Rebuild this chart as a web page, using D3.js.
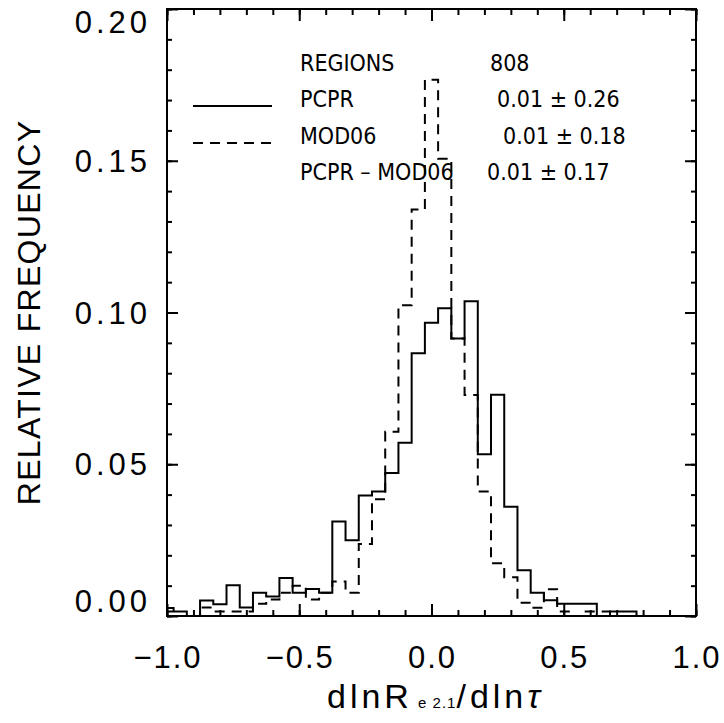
<!DOCTYPE html>
<html>
<head>
<meta charset="utf-8">
<script src="https://cdn.jsdelivr.net/npm/d3@7"></script>
<style>
  body { margin: 0; background: #fff; }
  svg { display: block; }
  .tick-label { font-family: "Liberation Sans", Arial, sans-serif; font-size: 31px; letter-spacing: 4px; fill: #000; }
  .legend { font-family: "Liberation Sans Narrow", "DejaVu Sans Condensed", sans-serif; font-size: 23px; fill: #000; }
</style>
</head>
<body>
<svg id="chart" width="724" height="723"></svg>
<script>
// bin centres of the histogram (dlnRe/dlntau)
var binCenters = [-1.00, -0.95, -0.90, -0.85, -0.80, -0.75, -0.70, -0.65, -0.60, -0.55,
                  -0.50, -0.45, -0.40, -0.35, -0.30, -0.25, -0.20, -0.15, -0.10, -0.05,
                   0.00,  0.05,  0.10,  0.15,  0.20,  0.25,  0.30,  0.35,  0.40,  0.45,
                   0.50,  0.55,  0.60,  0.65,  0.70,  0.75,  0.80,  0.85,  0.90,  0.95, 1.00];

// relative frequency, PCPR (solid)
var pcpr = [0.0015, 0.0015, 0.0000, 0.0051, 0.0039, 0.0101, 0.0028, 0.0077, 0.0064, 0.0125,
            0.0077, 0.0089, 0.0077, 0.0311, 0.0250, 0.0397, 0.0410, 0.0471, 0.0571, 0.0866,
            0.0966, 0.1014, 0.0914, 0.1037, 0.0533, 0.0729, 0.0360, 0.0151, 0.0077, 0.0052,
            0.0040, 0.0040, 0.0040, 0.0000, 0.0015, 0.0015, 0.0000, 0.0000, 0.0000, 0.0000, 0.0000];

// relative frequency, MOD06 (dashed)
var mod06 = [0.0026, 0.0000, 0.0000, 0.0028, 0.0015, 0.0015, 0.0015, 0.0040, 0.0054, 0.0077,
             0.0100, 0.0054, 0.0077, 0.0114, 0.0077, 0.0237, 0.0385, 0.0607, 0.1024, 0.1339,
             0.1767, 0.1507, 0.0914, 0.0728, 0.0410, 0.0174, 0.0128, 0.0044, 0.0027, 0.0088,
             0.0015, 0.0000, 0.0015, 0.0015, 0.0000, 0.0000, 0.0000, 0.0000, 0.0000, 0.0000, 0.0000];

var xTickValues = [-1.0, -0.5, 0.0, 0.5, 1.0];
var xTickLabels = ['\u22121.0', '\u22120.5', '0.0', '0.5', '1.0'];
var yTickValues = [0.00, 0.05, 0.10, 0.15, 0.20];
var yTickLabels = ['0.00', '0.05', '0.10', '0.15', '0.20'];

var legendNames = ['REGIONS', 'PCPR', 'MOD06', 'PCPR \u2013 MOD06'];
var legendStats = ['808', '0.01 \u00b1 0.26', '0.01 \u00b1 0.18', '0.01 \u00b1 0.17'];

(function(){
  var left = 167, right = 696, top = 9, bottom = 616;
  var svg = d3.select('#chart');

  var x = d3.scaleLinear().domain([-1, 1]).range([left, right]);
  var y = d3.scaleLinear().domain([0, 0.2]).range([bottom, top]);

  // Helpers
  function ticks(g, axis) {
    g.call(axis);
    g.select('.domain').remove();
    g.selectAll('.tick line').attr('stroke', '#000').attr('stroke-width', 2);
    g.selectAll('.tick text').remove();
  }

  var xMinor = x.ticks(20), yMinor = y.ticks(20);

  svg.append('g').attr('transform', 'translate(0,' + bottom + ')')
    .call(ticks, d3.axisBottom(x).tickValues(xMinor).tickSize(-6));
  svg.append('g').attr('transform', 'translate(0,' + bottom + ')')
    .call(ticks, d3.axisBottom(x).tickValues(xTickValues).tickSize(-12));
  svg.append('g').attr('transform', 'translate(0,' + top + ')')
    .call(ticks, d3.axisTop(x).tickValues(xMinor).tickSize(-6));
  svg.append('g').attr('transform', 'translate(0,' + top + ')')
    .call(ticks, d3.axisTop(x).tickValues(xTickValues).tickSize(-12));
  svg.append('g').attr('transform', 'translate(' + left + ',0)')
    .call(ticks, d3.axisLeft(y).tickValues(yMinor).tickSize(-5));
  svg.append('g').attr('transform', 'translate(' + left + ',0)')
    .call(ticks, d3.axisLeft(y).tickValues(yTickValues).tickSize(-11));
  svg.append('g').attr('transform', 'translate(' + right + ',0)')
    .call(ticks, d3.axisRight(y).tickValues(yMinor).tickSize(-5));
  svg.append('g').attr('transform', 'translate(' + right + ',0)')
    .call(ticks, d3.axisRight(y).tickValues(yTickValues).tickSize(-11));

  // histograms
  var line = d3.line().curve(d3.curveStep)
    .x(function(d, i) { return x(binCenters[i]); })
    .y(function(d) { return y(d); });

  svg.append('path').datum(pcpr)
    .attr('d', line).attr('fill', 'none').attr('stroke', '#000').attr('stroke-width', 2);
  svg.append('path').datum(mod06)
    .attr('d', line).attr('fill', 'none').attr('stroke', '#000').attr('stroke-width', 2)
    .attr('stroke-dasharray', '10,7');

  // frame
  svg.append('rect')
    .attr('x', left).attr('y', top).attr('width', right - left).attr('height', bottom - top)
    .attr('fill', 'none').attr('stroke', '#000').attr('stroke-width', 2);

  // tick labels
  svg.selectAll('text.xl').data(xTickValues).enter().append('text')
    .attr('class', 'tick-label xl')
    .style('letter-spacing', '2px')
    .attr('x', function(d) { return Math.min(x(d) + 1, 697); })
    .attr('y', 668)
    .attr('text-anchor', 'middle')
    .text(function(d, i) { return xTickLabels[i]; });

  svg.selectAll('text.yl').data(yTickValues).enter().append('text')
    .attr('class', 'tick-label yl')
    .attr('x', 151)
    .attr('y', function(d) { return Math.min(Math.max(y(d) + 11, 33), 612); })
    .attr('text-anchor', 'end')
    .text(function(d, i) { return yTickLabels[i]; });

  // axis titles
  svg.append('text')
    .attr('transform', 'translate(40,' + ((top + bottom) / 2) + ') rotate(-90)')
    .attr('text-anchor', 'middle')
    .style('font-family', '"Liberation Sans", Arial, sans-serif')
    .style('font-size', '32px')
    .style('letter-spacing', '1.3px')
    .text('RELATIVE FREQUENCY');

  var title = svg.append('text')
    .attr('x', x(0) + 4).attr('y', 708)
    .attr('text-anchor', 'middle')
    .style('font-family', '"Liberation Sans", Arial, sans-serif')
    .style('font-size', '34px')
    .style('letter-spacing', '4px');
  title.append('tspan').text('dlnR');
  title.append('tspan').style('font-size', '15px').style('letter-spacing', '1px').text(' e 2.1');
  title.append('tspan').text('/dln');
  title.append('tspan').style('font-style', 'italic').text('\u03c4');

  // legend
  var rowY = [71, 107, 144, 180];
  var statX = [490, 497, 503, 487];
  svg.selectAll('text.ln').data(legendNames).enter().append('text')
    .attr('class', 'legend ln')
    .attr('x', 300).attr('y', function(d, i) { return rowY[i]; })
    .text(function(d) { return d; });
  svg.selectAll('text.ls').data(legendStats).enter().append('text')
    .attr('class', 'legend ls')
    .attr('x', function(d, i) { return statX[i]; })
    .attr('y', function(d, i) { return rowY[i]; })
    .text(function(d) { return d; });

  svg.append('line').attr('x1', 193).attr('x2', 272).attr('y1', 106).attr('y2', 106)
    .attr('stroke', '#000').attr('stroke-width', 2);
  svg.append('line').attr('x1', 193).attr('x2', 272).attr('y1', 143).attr('y2', 143)
    .attr('stroke', '#000').attr('stroke-width', 2).attr('stroke-dasharray', '10,7');
})();
</script>
</body>
</html>
